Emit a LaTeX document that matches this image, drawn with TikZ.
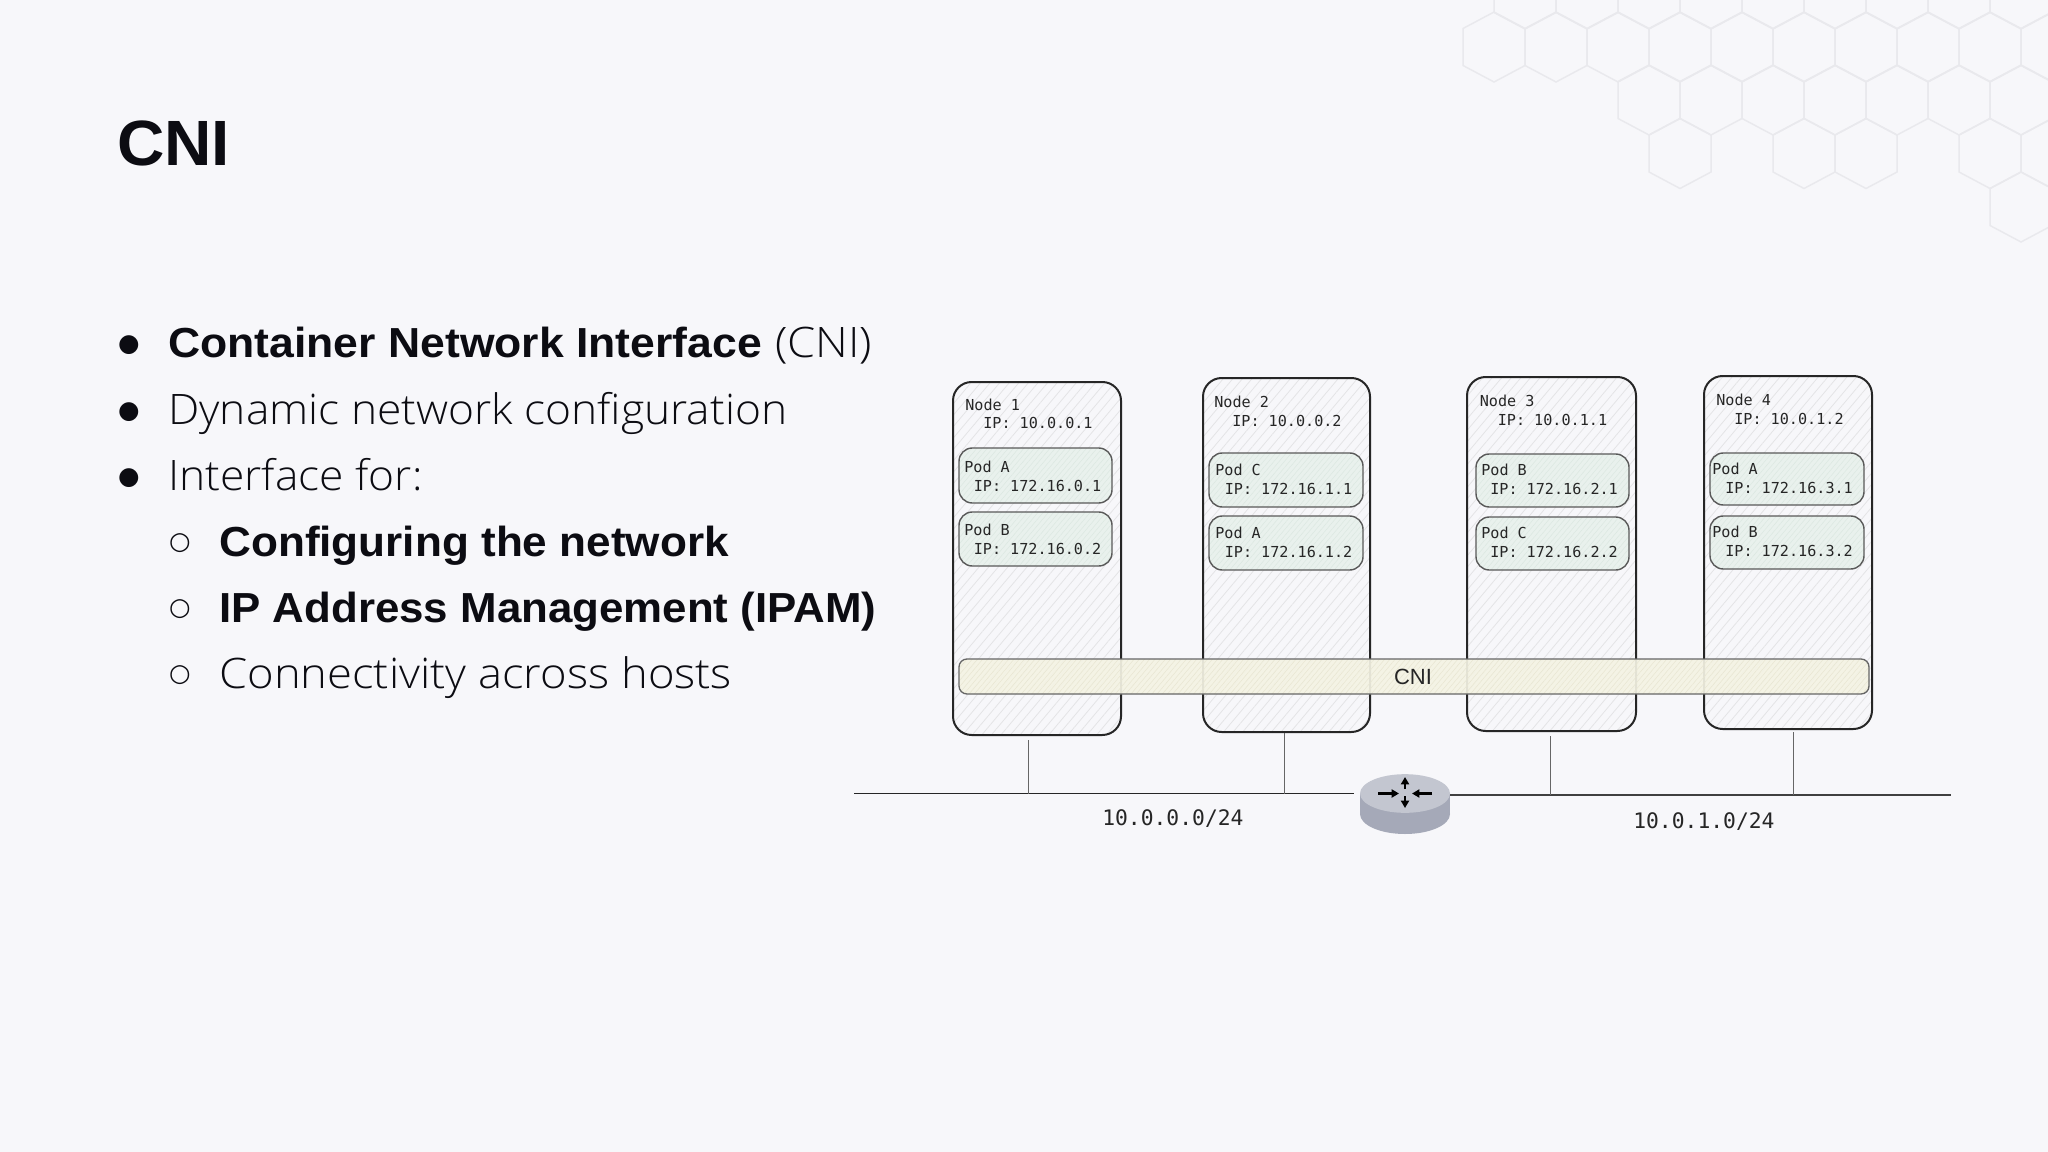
\documentclass[tikz,border=0pt]{standalone}
\usepackage{fontspec}
\usetikzlibrary{patterns.meta,shapes.geometric,arrows.meta}
\setmainfont{Liberation Sans}
\newfontfamily\lightf[FakeStretch=1.055]{Open Sans Light}
\newfontfamily\lightwide[FakeStretch=1.08]{Open Sans Light}
\newfontfamily\boldf[FakeStretch=1.05]{Liberation Sans Bold}
\newfontfamily\boldwide[FakeStretch=1.06]{Liberation Sans Bold}
\newfontfamily\boldtight[FakeStretch=1.044]{Liberation Sans Bold}
\newfontfamily\titlef[FakeStretch=1.025]{Liberation Sans Bold}
\newfontfamily\monof{DejaVu Sans Mono}
\newfontfamily\glyphf{DejaVu Sans}
\definecolor{pagebg}{HTML}{F7F7FA}
\definecolor{hexline}{HTML}{E9E9ED}
\definecolor{ink}{HTML}{0C0C12}
\definecolor{hatchgrey}{HTML}{E4E4E6}
\definecolor{podfill}{HTML}{E9F1ED}
\definecolor{podhatch}{HTML}{DCE8E1}
\definecolor{cnifill}{HTML}{F4F3E4}
\definecolor{cnihatch}{HTML}{E8E6D2}
\definecolor{routertop}{HTML}{C3C6D0}
\definecolor{routerside}{HTML}{A5A9B8}
\tikzset{
  x=0.75pt,y=-0.75pt,
  box/.style={anchor=north west,inner sep=0pt,outer sep=0pt},
  host/.style={box,draw=black!85,line width=1.5pt,rounded corners=14pt,
    pattern={Lines[angle=50,distance=5.5pt,line width=0.6pt]},pattern color=hatchgrey},
  pod/.style={box,draw=black!65,line width=1.05pt,rounded corners=10pt,
    preaction={fill=podfill},
    pattern={Lines[angle=50,distance=3pt,line width=0.4pt]},pattern color=podhatch},
  cni/.style={box,draw=black!60,line width=1pt,rounded corners=6pt,fill opacity=0.92,text opacity=1,
    preaction={fill=cnifill},
    pattern={Lines[angle=50,distance=3pt,line width=0.4pt]},pattern color=cnihatch},
  mono/.style={anchor=base west,inner sep=0pt,text=black!85,font=\monof\fontsize{11.35pt}{13pt}\selectfont},
  lanlabel/.style={anchor=base west,inner sep=0pt,text=black!85,font=\monof\fontsize{16pt}{18pt}\selectfont},
  lan/.style={draw=black!75,line width=1pt},
  lanthin/.style={draw=black!85,line width=0.85pt},
  drop/.style={draw=black!60,line width=0.75pt},
  tick/.style={-{Triangle[length=5.5pt,width=6pt]},line width=1.8pt,black},
  hexa/.style={draw=hexline,line width=1.1pt},
  lead/.style={anchor=base west,inner sep=0pt,text=ink,font=\lightf\fontsize{31.5pt}{36pt}\selectfont},
  leadb/.style={anchor=base west,inner sep=0pt,text=ink,font=\boldf\fontsize{31.5pt}{36pt}\selectfont},
  dot/.style={inner sep=0pt,text=ink,font=\glyphf\fontsize{18.5pt}{24pt}\selectfont},
}
\newcommand{\bbox}[6]{\node[#1,minimum width={(#5-#3)*0.75pt},minimum height={(#6-#4)*0.75pt}] (#2) at (#3,#4) {};}
\newcommand{\hexcell}[2]{\draw[hexa] (#1,#2-35) -- (#1+31,#2-18.5) -- (#1+31,#2+18.5) -- (#1,#2+35) -- (#1-31,#2+18.5) -- (#1-31,#2-18.5) -- cycle;}
\begin{document}
\begin{tikzpicture}
\useasboundingbox (0,0) rectangle (2048,1152);
\fill[pagebg] (0,0) rectangle (2048,1152);

% hexagons top right
\begin{scope}
\clip (0,0) rectangle (2048,1152);
\foreach \c in {1525,1587,1649,1711,1773,1835,1897,1959,2021} {\hexcell{\c}{-6}}
\foreach \c in {1494,1556,1618,1680,1742,1804,1866,1928,1990,2052} {\hexcell{\c}{47}}
\foreach \c in {1649,1711,1773,1835,1897,1959,2021} {\hexcell{\c}{100}}
\foreach \c in {1680,1804,1866,1990,2052} {\hexcell{\c}{153.5}}
\hexcell{2021}{207}
\end{scope}

% title and list
\node[anchor=base west,inner sep=0pt,text=ink,font=\titlef\fontsize{48pt}{52pt}\selectfont] (title) at (117,166) {CNI};
\node[dot] (b1) at (129,345) {●};
\node[dot] (b2) at (129,412) {●};
\node[dot] (b3) at (129,478) {●};
\node[dot] (b4) at (180,543) {○};
\node[dot] (b5) at (180,609) {○};
\node[dot] (b6) at (180,675) {○};
\node[leadb,font=\boldwide\fontsize{31.5pt}{36pt}\selectfont] (l1) at (168,357) {Container Network Interface};
\node[lead,font=\lightwide\fontsize{31.5pt}{36pt}\selectfont] (l1b) at (775,357) {(CNI)};
\node[lead] (l2) at (168,424) {Dynamic network configuration};
\node[lead] (l3) at (168,490) {Interface for:};
\node[leadb] (l4) at (219,556) {Configuring the network};
\node[leadb,font=\boldtight\fontsize{31.5pt}{36pt}\selectfont] (l5) at (219,622) {IP Address Management (IPAM)};
\node[lead,font=\lightwide\fontsize{31.5pt}{36pt}\selectfont] (l6) at (219,688) {Connectivity across hosts};

% cluster nodes
\bbox{host}{n1}{953}{382}{1121}{735}
\bbox{host}{n2}{1203}{378}{1370}{732}
\bbox{host}{n3}{1467}{377}{1636}{731}
\bbox{host}{n4}{1704}{376}{1872}{729}

\node[mono] (n1a) at (965,410) {Node 1};
\node[mono] (n1b) at (983,428.5) {IP: 10.0.0.1};
\node[mono] (n2a) at (1214,407) {Node 2};
\node[mono] (n2b) at (1232,426) {IP: 10.0.0.2};
\node[mono] (n3a) at (1479.5,406) {Node 3};
\node[mono] (n3b) at (1497.5,425) {IP: 10.0.1.1};
\node[mono] (n4a) at (1716,405) {Node 4};
\node[mono] (n4b) at (1734,424) {IP: 10.0.1.2};

% pods
\bbox{pod}{p1}{959}{448}{1112}{503}
\bbox{pod}{p2}{959}{512}{1112}{566}
\bbox{pod}{p3}{1209}{453}{1363}{507}
\bbox{pod}{p4}{1209}{516}{1363}{570}
\bbox{pod}{p5}{1476}{454}{1629}{507}
\bbox{pod}{p6}{1476}{517}{1629}{570}
\bbox{pod}{p7}{1710}{453}{1864}{505}
\bbox{pod}{p8}{1710}{516}{1864}{569}

\node[mono] (p1a) at (964,472) {Pod A};
\node[mono] (p1b) at (973.5,491) {IP: 172.16.0.1};
\node[mono] (p2a) at (964,535) {Pod B};
\node[mono] (p2b) at (973.5,554) {IP: 172.16.0.2};
\node[mono] (p3a) at (1215,475.5) {Pod C};
\node[mono] (p3b) at (1224.5,494.5) {IP: 172.16.1.1};
\node[mono] (p4a) at (1215,538.5) {Pod A};
\node[mono] (p4b) at (1224.5,557.5) {IP: 172.16.1.2};
\node[mono] (p5a) at (1481,475.5) {Pod B};
\node[mono] (p5b) at (1490,494.5) {IP: 172.16.2.1};
\node[mono] (p6a) at (1481,538) {Pod C};
\node[mono] (p6b) at (1490,557) {IP: 172.16.2.2};
\node[mono] (p7a) at (1712,474) {Pod A};
\node[mono] (p7b) at (1725,493) {IP: 172.16.3.1};
\node[mono] (p8a) at (1712,537) {Pod B};
\node[mono] (p8b) at (1725,556) {IP: 172.16.3.2};

% CNI band
\bbox{cni}{band}{959}{659}{1869}{694}
\node[inner sep=0pt,text=black!85,font=\fontsize{16.5pt}{18pt}\selectfont] (bandt) at (1413,676.5) {CNI};

% router
\fill[routerside] (1360,794) rectangle (1450,814);
\fill[routerside] (1405,814) ellipse[x radius=45,y radius=20];
\node[ellipse,fill=routertop,inner sep=0pt,minimum width=67.5pt,minimum height=29pt] (router) at (1405,793.5) {};
\draw[tick] (1378,793.5) -- (1399,793.5);
\draw[tick] (1432,793.5) -- (1412,793.5);
\draw[tick] (1405,789) -- (1405,777);
\draw[tick] (1405,796) -- (1405,808);

% LAN lines
\coordinate (lanl) at (854,793.5);
\coordinate (lanm) at (1354,793.5);
\coordinate (lanr) at (1951,795);
\draw[lanthin] (lanl) -- (lanm);
\draw[lan] (router.east |- lanr) -- (lanr);
\coordinate (d1) at (1028,740);
\coordinate (d2) at (1284,733);
\coordinate (d3) at (1550,736);
\coordinate (d4) at (1793,732);
\draw[drop] (d1) -- (d1 |- lanl);
\draw[drop] (d2) -- (d2 |- lanl);
\draw[drop] (d3) -- (d3 |- lanr);
\draw[drop] (d4) -- (d4 |- lanr);
\node[lanlabel] (net1) at (1102,825) {10.0.0.0/24};
\node[lanlabel] (net2) at (1633,828) {10.0.1.0/24};
\end{tikzpicture}
\end{document}
